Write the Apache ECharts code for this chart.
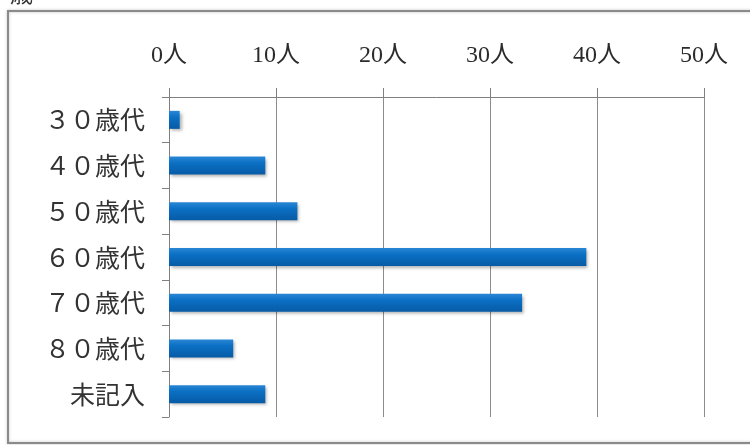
<!DOCTYPE html>
<html>
<head>
<meta charset="utf-8">
<script src="https://cdn.jsdelivr.net/npm/echarts@6/dist/echarts.min.js"></script>
<style>
  html, body { margin: 0; padding: 0; background: #ffffff; }
  #chart { width: 750px; height: 445px; }
</style>
</head>
<body>
<div id="chart"></div>
<script>
// Respondents by age group (persons)
const categories = ['３０歳代', '４０歳代', '５０歳代', '６０歳代', '７０歳代', '８０歳代', '未記入'];
const counts = [1, 9, 12, 39, 33, 6, 9];
const tickValues = [0, 10, 20, 30, 40, 50];
const unit = '人';

const chart = echarts.init(document.getElementById('chart'), null, { renderer: 'canvas' });

const barFill = new echarts.graphic.LinearGradient(0, 0, 0, 1, [
  { offset: 0, color: '#2a86d6' },
  { offset: 0.35, color: '#0b70c4' },
  { offset: 1, color: '#075ba6' }
]);

chart.setOption({
  backgroundColor: '#ffffff',
  animation: false,
  graphic: [
    {
      type: 'rect',
      shape: { x: 8, y: 11, width: 770, height: 432 },
      style: { fill: 'none', stroke: '#8a8a8a', lineWidth: 2,
               shadowColor: 'rgba(0,0,0,0.25)', shadowBlur: 3 },
      z: 0
    },
    {
      type: 'text',
      left: 10,
      top: -18,
      style: { text: '歳', fontSize: 23, fill: '#333', fontFamily: 'Noto Sans CJK JP' }
    }
  ],
  grid: { left: 169, right: 46, top: 97, bottom: 28, containLabel: false },
  xAxis: {
    type: 'value',
    position: 'top',
    min: tickValues[0],
    max: tickValues[tickValues.length - 1],
    interval: tickValues[1] - tickValues[0],
    axisLine: { show: true, lineStyle: { color: '#7f7f7f', width: 1 } },
    axisTick: { show: true, length: 9, lineStyle: { color: '#7f7f7f' } },
    splitLine: { show: true, lineStyle: { color: '#8c8c8c', width: 1 } },
    axisLabel: {
      margin: 29,
      fontSize: 24,
      color: '#2b2b2b',
      fontFamily: "'Liberation Serif', 'Noto Sans CJK JP'",
      formatter: v => v + unit
    }
  },
  yAxis: {
    type: 'category',
    inverse: true,
    data: categories,
    axisLine: { show: true, lineStyle: { color: '#7f7f7f', width: 1 } },
    axisTick: { show: true, length: 7, lineStyle: { color: '#7f7f7f' } },
    axisLabel: {
      margin: 24,
      fontSize: 25,
      color: '#333333',
      fontFamily: "'Noto Sans CJK JP'"
    }
  },
  series: [{
    type: 'bar',
    data: counts,
    barWidth: 18,
    itemStyle: {
      color: barFill,
      shadowColor: 'rgba(0,0,0,0.3)',
      shadowBlur: 3,
      shadowOffsetX: 2,
      shadowOffsetY: 2
    }
  }]
});
</script>
</body>
</html>
